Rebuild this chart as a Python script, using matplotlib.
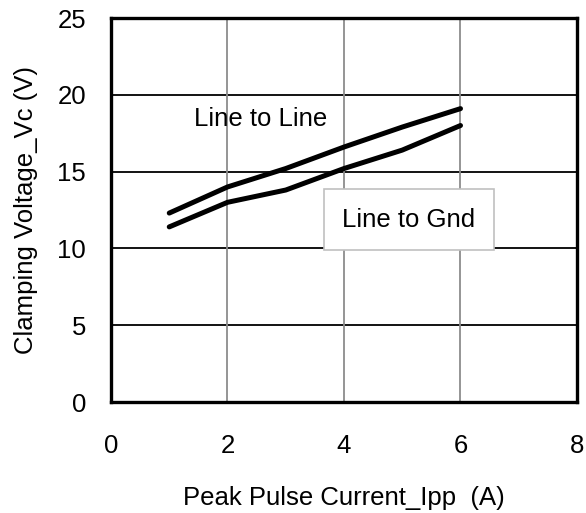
import matplotlib
matplotlib.use("Agg")
import matplotlib.pyplot as plt

plt.rcParams['font.family'] = ['Liberation Sans', 'DejaVu Sans']

current = [1, 2, 3, 4, 5, 6]
v_line_to_line = [12.3, 14.0, 15.2, 16.6, 17.9, 19.1]
v_line_to_gnd = [11.4, 13.0, 13.8, 15.2, 16.4, 18.0]
x_ticks = [0, 2, 4, 6, 8]
y_ticks = [0, 5, 10, 15, 20, 25]

FS = 18.5

fig = plt.figure(figsize=(5.86, 5.13), dpi=100)
ax = fig.add_axes([111/586, 1 - 402/513, 466/586, 384/513])

ax.set_xlim(0, 8)
ax.set_ylim(0, 25)
ax.set_xticks(x_ticks)
ax.set_yticks(y_ticks)

for y in y_ticks[1:-1]:
    ax.axhline(y, color='black', lw=1.3, zorder=1)
for x in x_ticks[1:-1]:
    ax.axvline(x, color='#8c8c8c', lw=1.3, zorder=1)

ax.plot(current, v_line_to_line, color='black', lw=3.6, solid_capstyle='round', zorder=3)
ax.plot(current, v_line_to_gnd, color='black', lw=3.6, solid_capstyle='round', zorder=3)

ax.text(2.57, 18.4, 'Line to Line', fontsize=FS, ha='center', va='center', zorder=4)
ax.text(5.11, 11.85, 'Line to Gnd', fontsize=FS, ha='center', va='center', zorder=4,
        bbox=dict(boxstyle='square,pad=0.72', fc='white', ec='#c0c0c0', lw=1.2))

for s in ax.spines.values():
    s.set_linewidth(2.4)
    s.set_color('black')

ax.tick_params(length=0, labelsize=FS, colors='black')
ax.tick_params(axis='y', pad=18)
ax.tick_params(axis='x', pad=23)

ax.set_xlabel('Peak Pulse Current_Ipp  (A)', fontsize=FS, labelpad=20)
ax.set_ylabel('Clamping Voltage_Vc (V)', fontsize=FS, labelpad=14)

fig.savefig('out.png', dpi=100)
